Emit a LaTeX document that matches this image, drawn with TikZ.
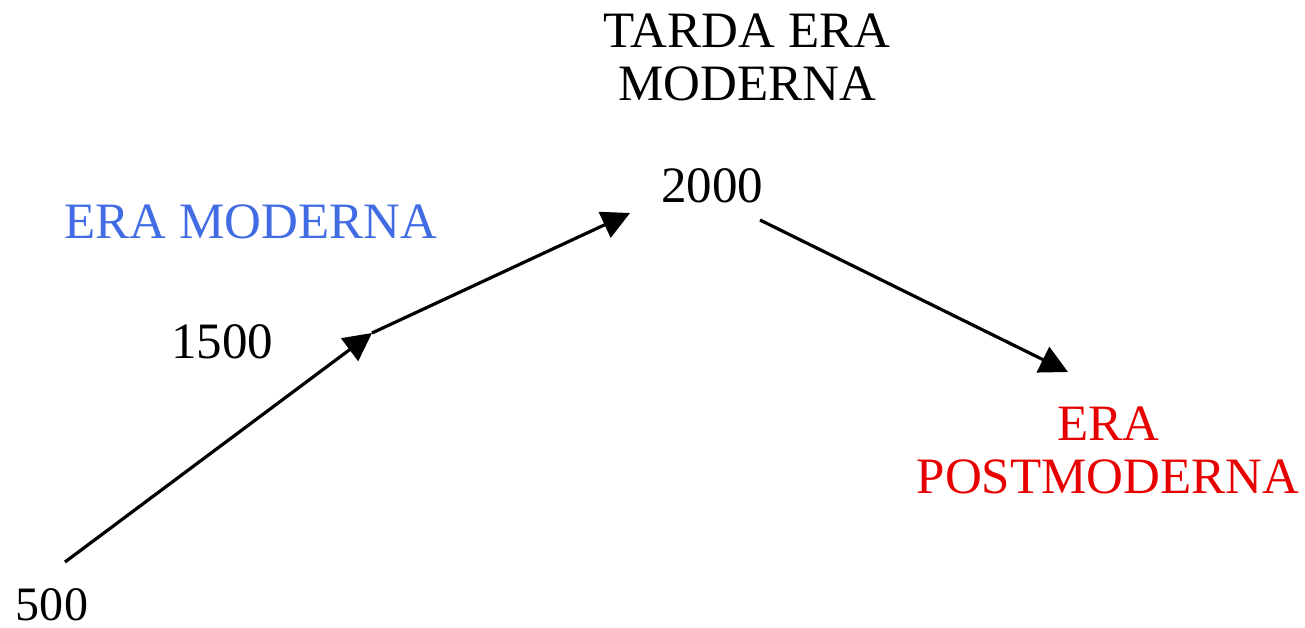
\documentclass[tikz,border=0pt]{standalone}
\usepackage{fontspec}
\setmainfont{Liberation Serif}
\usetikzlibrary{arrows.meta}
\definecolor{eblue}{RGB}{66,108,228}
\definecolor{ered}{RGB}{232,0,0}
\tikzset{
  lbl/.style={inner sep=0pt, anchor=base, align=center, font=\fontsize{51}{53}\selectfont},
  conn/.style={line width=3.2pt, -{Triangle[length=28pt,width=28pt]}},
}
\begin{document}
\begin{tikzpicture}[x=1pt,y=-1pt]
\useasboundingbox (0,0) rectangle (1305,627);
\node[lbl] (tarda) at (747,100) {TARDA ERA\\MODERNA};
\node[lbl] (y2000) at (712,202) {2000};
\node[lbl, text=eblue] (moderna) at (251,238) {ERA MODERNA};
\node[lbl] (y1500) at (222,358) {1500};
\node[lbl, text=ered] (post) at (1108,493) {ERA\\POSTMODERNA};
\node[lbl, font=\fontsize{48}{50}\selectfont] (y500) at (52,620) {500};
\coordinate (p0) at (65,562);
\coordinate (p1) at (372,333);
\coordinate (p2) at (630,213);
\coordinate (p3) at (760,220);
\coordinate (p4) at (1068,372);
\draw[conn] (p0) -- (p1);
\draw[conn] (p1) -- (p2);
\draw[conn] (p3) -- (p4);
\end{tikzpicture}
\end{document}
